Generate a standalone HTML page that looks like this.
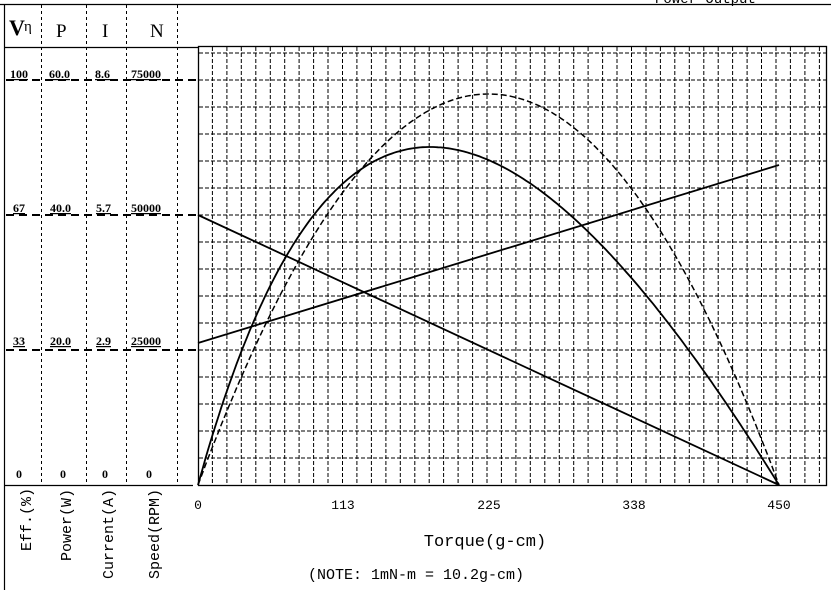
<!DOCTYPE html>
<html><head><meta charset="utf-8"><style>
html,body{margin:0;padding:0;background:#fff;}
svg{display:block;}
text{font-family:"Liberation Serif","Noto Serif CJK SC",serif;fill:#000;}
text.m{font-family:"Liberation Mono","Noto Sans CJK SC",monospace;}
text.u{text-decoration:underline;}
</style></head><body>
<svg id="s" width="831" height="590" viewBox="0 0 831 590" xmlns="http://www.w3.org/2000/svg">
<rect width="831" height="590" fill="#fff"/>
<text x="655" y="3" font-size="14" class="m">Power Output</text>
<line x1="0" y1="4.5" x2="831" y2="4.5" stroke="#000" stroke-width="1.2"/>
<line x1="4.5" y1="4" x2="4.5" y2="590" stroke="#000" stroke-width="1.2"/>
<line x1="4" y1="47.5" x2="198" y2="47.5" stroke="#000" stroke-width="1.2"/>
<line x1="4" y1="485.5" x2="193" y2="485.5" stroke="#000" stroke-width="1.2"/>
<g stroke="#000" stroke-width="1" stroke-dasharray="3,3">
<line x1="41.5" y1="5" x2="41.5" y2="485"/>
<line x1="86.5" y1="5" x2="86.5" y2="485"/>
<line x1="126.5" y1="5" x2="126.5" y2="485"/>
<line x1="177.5" y1="5" x2="177.5" y2="485"/>
</g>
<text x="9" y="35" font-size="22" font-weight="bold">V</text><text x="24" y="31" font-size="15">η</text>
<text x="56" y="37" font-size="19">P</text>
<text x="102" y="37" font-size="19">I</text>
<text x="150" y="37" font-size="19">N</text>
<g font-size="12" font-weight="bold">
<text class="u" x="10" y="78">100</text><text class="u" x="49" y="78">60.0</text><text class="u" x="95" y="78">8.6</text><text class="u" x="131" y="78">75000</text>
<text class="u" x="13" y="212">67</text><text class="u" x="50" y="212">40.0</text><text class="u" x="96" y="212">5.7</text><text class="u" x="131" y="212">50000</text>
<text class="u" x="13" y="345">33</text><text class="u" x="50" y="345">20.0</text><text class="u" x="96" y="345">2.9</text><text class="u" x="131" y="345">25000</text>
<text x="16" y="478">0</text><text x="60" y="478">0</text><text x="102" y="478">0</text><text x="146" y="478">0</text>
</g>
<g stroke="#000" stroke-width="2" stroke-dasharray="8,5">
<line x1="6" y1="80" x2="198" y2="80"/>
<line x1="6" y1="215" x2="198" y2="215"/>
<line x1="6" y1="350" x2="198" y2="350"/>
</g>
<g font-size="15">
<text class="m" transform="translate(31,551) rotate(-90)">Eff.(%)</text>
<text class="m" transform="translate(71,561) rotate(-90)">Power(W)</text>
<text class="m" transform="translate(113,579) rotate(-90)">Current(A)</text>
<text class="m" transform="translate(159,579) rotate(-90)">Speed(RPM)</text>
</g>
<g id="grid" stroke="#000" stroke-width="1" stroke-dasharray="4,2"></g>
<rect x="198.5" y="46.5" width="628" height="439" fill="none" stroke="#000" stroke-width="1.3"/>
<g font-size="13" text-anchor="middle">
<text class="m" x="198" y="509">0</text><text class="m" x="343" y="509">113</text><text class="m" x="489" y="509">225</text><text class="m" x="634" y="509">338</text><text class="m" x="779" y="509">450</text>
</g>
<text x="485" y="546" font-size="17" class="m" text-anchor="middle">Torque(g-cm)</text>
<text x="308" y="579" font-size="15" class="m">(NOTE: 1mN-m = 10.2g-cm)</text>
<g stroke="#000" stroke-width="1.8" fill="none">
<line x1="198" y1="215" x2="779" y2="485"/>
<line x1="198" y1="343" x2="779" y2="165"/>
<path id="eff"/>
<path id="pow" stroke-dasharray="6,3" stroke-width="1.5"/>
</g>
</svg>
<script>
var g=document.getElementById('grid'),h='';
for(var k=1;k<=43;k++){var x=198+14.45*k;if(x>825)break;h+='<line x1="'+x.toFixed(1)+'" y1="47" x2="'+x.toFixed(1)+'" y2="485"/>';}
for(var k=1;k<=16;k++){var y=485-27*k;if(y<50)break;h+='<line x1="199" y1="'+y+'" x2="826" y2="'+y+'"/>';}
g.innerHTML=h;
function X(t){return 198+t*581/450;}
function f(t){return t*(450-t)/(142+0.3956*t);}
var fm=f(180),d1='',d2='';
for(var t=0;t<=450;t+=2){var y1=485-338*f(t)/fm,y2=485-391*t*(450-t)/50625;
d1+=(t?'L':'M')+X(t).toFixed(1)+','+y1.toFixed(1);d2+=(t?'L':'M')+X(t).toFixed(1)+','+y2.toFixed(1);}
document.getElementById('eff').setAttribute('d',d1);
document.getElementById('pow').setAttribute('d',d2);
</script>
</body></html>
